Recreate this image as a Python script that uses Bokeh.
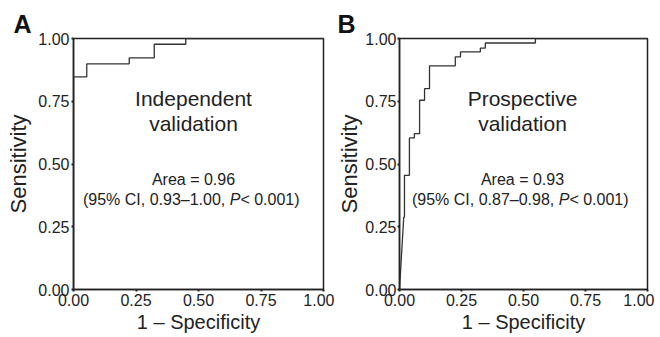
from bokeh.plotting import figure
from bokeh.layouts import row
from bokeh.models import Range1d, FixedTicker, Label
from bokeh.embed import file_html
from bokeh.resources import INLINE

# ---------------- data ----------------
tick_values = [0.0, 0.25, 0.5, 0.75, 1.0]
tick_labels = ["0.00", "0.25", "0.50", "0.75", "1.00"]

# Panel A: independent validation ROC (1 - specificity, sensitivity)
fpr_a = [0.0, 0.0, 0.053, 0.223, 0.323, 0.449, 1.0]
tpr_a = [0.0, 0.847, 0.899, 0.923, 0.977, 1.0, 1.0]

# Panel B: prospective validation ROC
fpr_b = [0.0, 0.017, 0.020, 0.040, 0.060, 0.081, 0.101, 0.121, 0.225, 0.246, 0.326, 0.346, 0.548, 1.0]
tpr_b = [0.0, 0.288, 0.455, 0.604, 0.621, 0.754, 0.800, 0.891, 0.927, 0.947, 0.962, 0.982, 1.0, 1.0]

panel_letters = ["A", "B"]
panel_titles = [["Independent", "validation"], ["Prospective", "validation"]]
area_texts = ["Area = 0.96", "Area = 0.93"]
ci_texts = [("(95% CI, 0.93\u20131.00, ", "P", " < 0.001)"),
            ("(95% CI, 0.87\u20130.98, ", "P", " < 0.001)")]
x_label = "1 \u2013 Specificity"
y_label = "Sensitivity"

FONT = "Liberation Sans"
INK = "#222222"
CURVE = "#333333"

# Arial / Liberation Sans advance widths (per 1000 em) for layout of mixed-style line
W = {"(": 333, ")": 333, "%": 889, " ": 278, ",": 278, ".": 278, "C": 722, "I": 278,
     "P": 667, "<": 584, "\u2013": 556}
for d in "0123456789":
    W[d] = 556


def text_width(s, size):
    return sum(W.get(c, 556) for c in s) * size / 1000.0


def staircase(fpr, tpr, diagonal_first=False):
    xs, ys = [fpr[0]], [tpr[0]]
    for i in range(1, len(fpr)):
        if i == 1 and diagonal_first:
            xs.append(fpr[i]); ys.append(tpr[i])
        else:
            xs.append(fpr[i]); ys.append(tpr[i - 1])
            xs.append(fpr[i]); ys.append(tpr[i])
    return xs, ys


def make_panel(idx, fpr, tpr, frame_w, left, right, diag, ylab_standoff,
               ylabel_label_standoff, letter_off, cx):
    p = figure(frame_width=frame_w, frame_height=251, min_border_left=left,
               min_border_right=right, min_border_top=38, min_border_bottom=48,
               x_range=Range1d(0, 1), y_range=Range1d(0, 1),
               output_backend="svg", toolbar_location=None,
               background_fill_color="white", border_fill_color="white")
    p.xgrid.visible = False
    p.ygrid.visible = False
    p.outline_line_color = INK
    p.outline_line_width = 1.5

    # panel letter as the title
    p.title.text = panel_letters[idx]
    p.title.align = "left"
    p.title.offset = letter_off
    p.title.standoff = 2
    p.title.text_font = FONT
    p.title.text_font_size = "25px"
    p.title.text_font_style = "bold"
    p.title.text_color = "#111111"

    overrides = {v: t for v, t in zip(tick_values, tick_labels)}
    for ax in (p.xaxis[0], p.yaxis[0]):
        ax.ticker = FixedTicker(ticks=tick_values)
        ax.major_label_overrides = overrides
        ax.minor_tick_line_color = None
        ax.major_tick_in = 0
        ax.major_tick_out = 2
        ax.major_tick_line_width = 2
        ax.major_tick_line_color = INK
        ax.axis_line_color = INK
        ax.axis_line_width = 1.5
        ax.major_label_text_font = FONT
        ax.major_label_text_font_size = "16px"
        ax.major_label_text_color = INK
        ax.major_label_standoff = 2
        ax.axis_label_text_font = FONT
        ax.axis_label_text_font_style = "normal"
        ax.axis_label_text_color = INK
    p.yaxis.axis_label = y_label
    p.yaxis.axis_label_text_font_size = "22px"
    p.yaxis.axis_label_standoff = ylab_standoff
    p.yaxis.major_label_standoff = ylabel_label_standoff
    p.xaxis.axis_label = x_label
    p.xaxis.axis_label_text_font_size = "20px"
    p.xaxis.axis_label_standoff = 2

    xs, ys = staircase(fpr, tpr, diag)
    p.line(xs, ys, line_color=CURVE, line_width=1.3)

    t1, t2 = panel_titles[idx]
    for txt, yy in ((t1, 0.759), (t2, 0.663)):
        p.add_layout(Label(x=cx, y=yy, text=txt, text_align="center",
                           text_baseline="alphabetic", text_font=FONT,
                           text_font_size="21px", text_color=INK))
    p.add_layout(Label(x=cx, y=0.44, text=area_texts[idx], text_align="center",
                       text_baseline="alphabetic", text_font=FONT,
                       text_font_size="16px", text_color=INK))
    a, b, c = ci_texts[idx]
    size = 16
    wa, wb, wc = text_width(a, size), text_width(b, size), text_width(c, size)
    start = -(wa + wb + wc) / 2.0
    for txt, off, style in ((a, start, "normal"), (b, start + wa, "italic"),
                            (c, start + wa + wb, "normal")):
        p.add_layout(Label(x=cx, y=0.36, x_offset=off, text=txt, text_align="left",
                           text_baseline="alphabetic", text_font=FONT,
                           text_font_size="16px", text_font_style=style, text_color=INK))
    return p


pa = make_panel(0, fpr_a, tpr_a, 250, 73, 11, False, 4, 2, -60, 0.48)
pb = make_panel(1, fpr_b, tpr_b, 248, 59, 7, True, 0, 1, -62, 0.496)

layout = row(pa, pb, spacing=0)
open("out.html", "w").write(file_html(layout, INLINE))
